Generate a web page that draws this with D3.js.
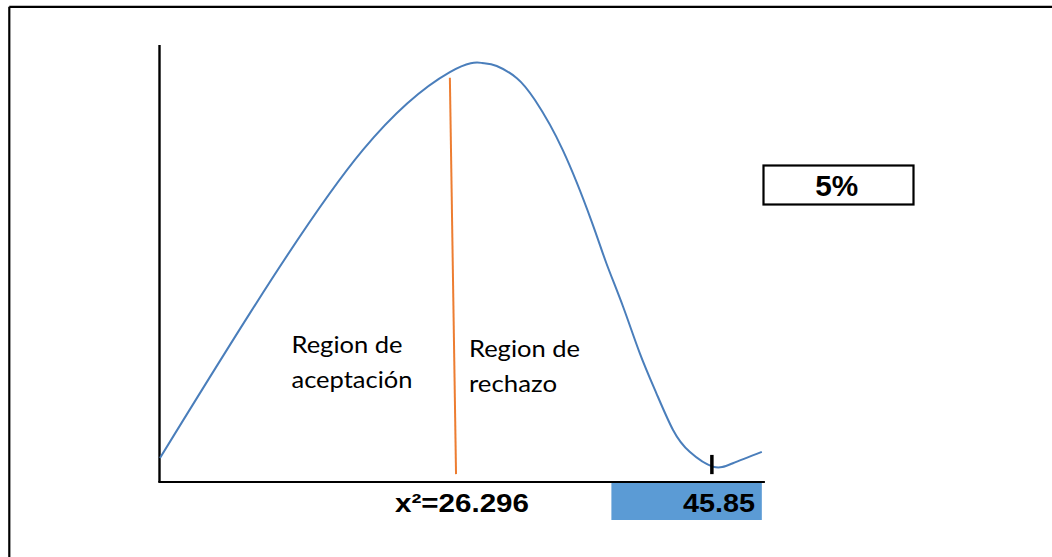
<!DOCTYPE html>
<html>
<head>
<meta charset="utf-8">
<script src="https://cdn.jsdelivr.net/npm/d3@7"></script>
<style>
html,body{margin:0;padding:0;background:#fff;}
svg{display:block;}
</style>
</head>
<body>
<svg id="c" width="1052" height="557"></svg>
<script>
// ---- data (arbitrary units: x 0..100, y 0..100) ----
const curveX = [0.08, 14.7, 33.0, 47.1, 52.3, 54.7, 57.97, 60.9, 65.4, 70.1, 72.5, 75.2, 77.9, 80.6, 83.3, 86.0, 89.8, 93.0, 97.7];
const curveY = [5.5, 38.7, 76.0, 93.8, 95.9, 95.2, 92.4, 87.4, 76.0, 59.6, 50.0, 40.1, 29.5, 20.3, 11.9, 6.9, 3.5, 4.3, 6.9];
const criticalLineX = [47.1, 48.1];
const criticalLineY = [92.5, 1.8];
const tickX = [89.6];
const tickY = [6.2, 1.8];
const regionLabels = ["Region de", "aceptación"];
const rejectLabels = ["Region de", "rechazo"];
const chiLabel = "x²=26.296";
const valueLabel = "45.85";
const alphaLabel = "5%";

const svg = d3.select("#c");

// outer frame (top and left edges visible)
svg.append("line").attr("x1", 9.3).attr("y1", 6.8).attr("x2", 1052).attr("y2", 6.8)
  .attr("stroke", "#000").attr("stroke-width", 2.2);
svg.append("line").attr("x1", 9.3).attr("y1", 6.8).attr("x2", 9.3).attr("y2", 557)
  .attr("stroke", "#000").attr("stroke-width", 2.2);

const x = d3.scaleLinear().domain([0, 100]).range([159.5, 776]);
const y = d3.scaleLinear().domain([0, 100]).range([482, 45]);

// axes (no ticks)
const xAxis = d3.axisBottom(x).tickValues([]).tickSizeOuter(0);
const yAxis = d3.axisLeft(y).tickValues([]).tickSizeOuter(0);
const gx = svg.append("g").attr("transform", `translate(0,${y(0)})`).call(xAxis);
gx.select(".domain").attr("stroke", "#000").attr("stroke-width", 2.2)
  .attr("d", `M${x(0) - 1.2},0H${x(98.2)}`);
const gy = svg.append("g").attr("transform", `translate(${x(0)},0)`).call(yAxis);
gy.select(".domain").attr("stroke", "#000").attr("stroke-width", 2.4)
  .attr("d", `M0,${y(0)}V${y(100)}`);

// blue value box
svg.append("rect")
  .attr("x", x(73.3)).attr("y", y(0) + 1)
  .attr("width", x(97.7) - x(73.3)).attr("height", 37)
  .attr("fill", "#5B9BD5");
svg.append("text")
  .attr("x", 755).attr("y", 511.5)
  .attr("text-anchor", "end")
  .attr("font-family", "Liberation Sans, Arial, sans-serif")
  .attr("font-weight", "bold").attr("font-size", 25.5)
  .attr("textLength", 72).attr("lengthAdjust", "spacingAndGlyphs")
  .attr("fill", "#000").text(valueLabel);

// chi label
svg.append("text")
  .attr("x", 395).attr("y", 512)
  .attr("font-family", "Liberation Sans, Arial, sans-serif")
  .attr("font-weight", "bold").attr("font-size", 25.5)
  .attr("textLength", 134).attr("lengthAdjust", "spacingAndGlyphs")
  .attr("fill", "#000").text(chiLabel);

// curve
const pts = curveX.map((d, i) => [d, curveY[i]]);
const line = d3.line().x(d => x(d[0])).y(d => y(d[1])).curve(d3.curveNatural);
svg.append("path").attr("d", line(pts))
  .attr("fill", "none").attr("stroke", "#4A7EBB").attr("stroke-width", 2);

// critical line
const cl = criticalLineX.map((d, i) => [d, criticalLineY[i]]);
svg.append("path").attr("d", d3.line().x(d => x(d[0])).y(d => y(d[1]))(cl))
  .attr("fill", "none").attr("stroke", "#ED7D31").attr("stroke-width", 2);

// tick mark
svg.append("line")
  .attr("x1", x(tickX[0])).attr("x2", x(tickX[0]))
  .attr("y1", y(tickY[0])).attr("y2", y(tickY[1]))
  .attr("stroke", "#000").attr("stroke-width", 3.5);

// region labels
const lblFont = "Lato, 'Open Sans', sans-serif";
const accept = svg.append("g");
accept.append("text").attr("x", 291.5).attr("y", 353)
  .attr("font-family", lblFont).attr("font-size", 23)
  .attr("textLength", 111).attr("lengthAdjust", "spacingAndGlyphs")
  .attr("fill", "#000").text(regionLabels[0]);
accept.append("text").attr("x", 291.5).attr("y", 388)
  .attr("font-family", lblFont).attr("font-size", 23)
  .attr("textLength", 121).attr("lengthAdjust", "spacingAndGlyphs")
  .attr("fill", "#000").text(regionLabels[1]);
const reject = svg.append("g");
reject.append("text").attr("x", 469).attr("y", 357)
  .attr("font-family", lblFont).attr("font-size", 23)
  .attr("textLength", 111).attr("lengthAdjust", "spacingAndGlyphs")
  .attr("fill", "#000").text(rejectLabels[0]);
reject.append("text").attr("x", 469).attr("y", 392)
  .attr("font-family", lblFont).attr("font-size", 23)
  .attr("textLength", 88).attr("lengthAdjust", "spacingAndGlyphs")
  .attr("fill", "#000").text(rejectLabels[1]);

// alpha box
svg.append("rect").attr("x", 763.5).attr("y", 165.5)
  .attr("width", 150).attr("height", 39)
  .attr("fill", "#fff").attr("stroke", "#000").attr("stroke-width", 2.2);
svg.append("text").attr("x", 836.7).attr("y", 196)
  .attr("text-anchor", "middle")
  .attr("font-family", "Liberation Sans, Arial, sans-serif")
  .attr("font-weight", "bold").attr("font-size", 29)
  .attr("textLength", 43).attr("lengthAdjust", "spacingAndGlyphs")
  .attr("fill", "#000").text(alphaLabel);
</script>
</body>
</html>
